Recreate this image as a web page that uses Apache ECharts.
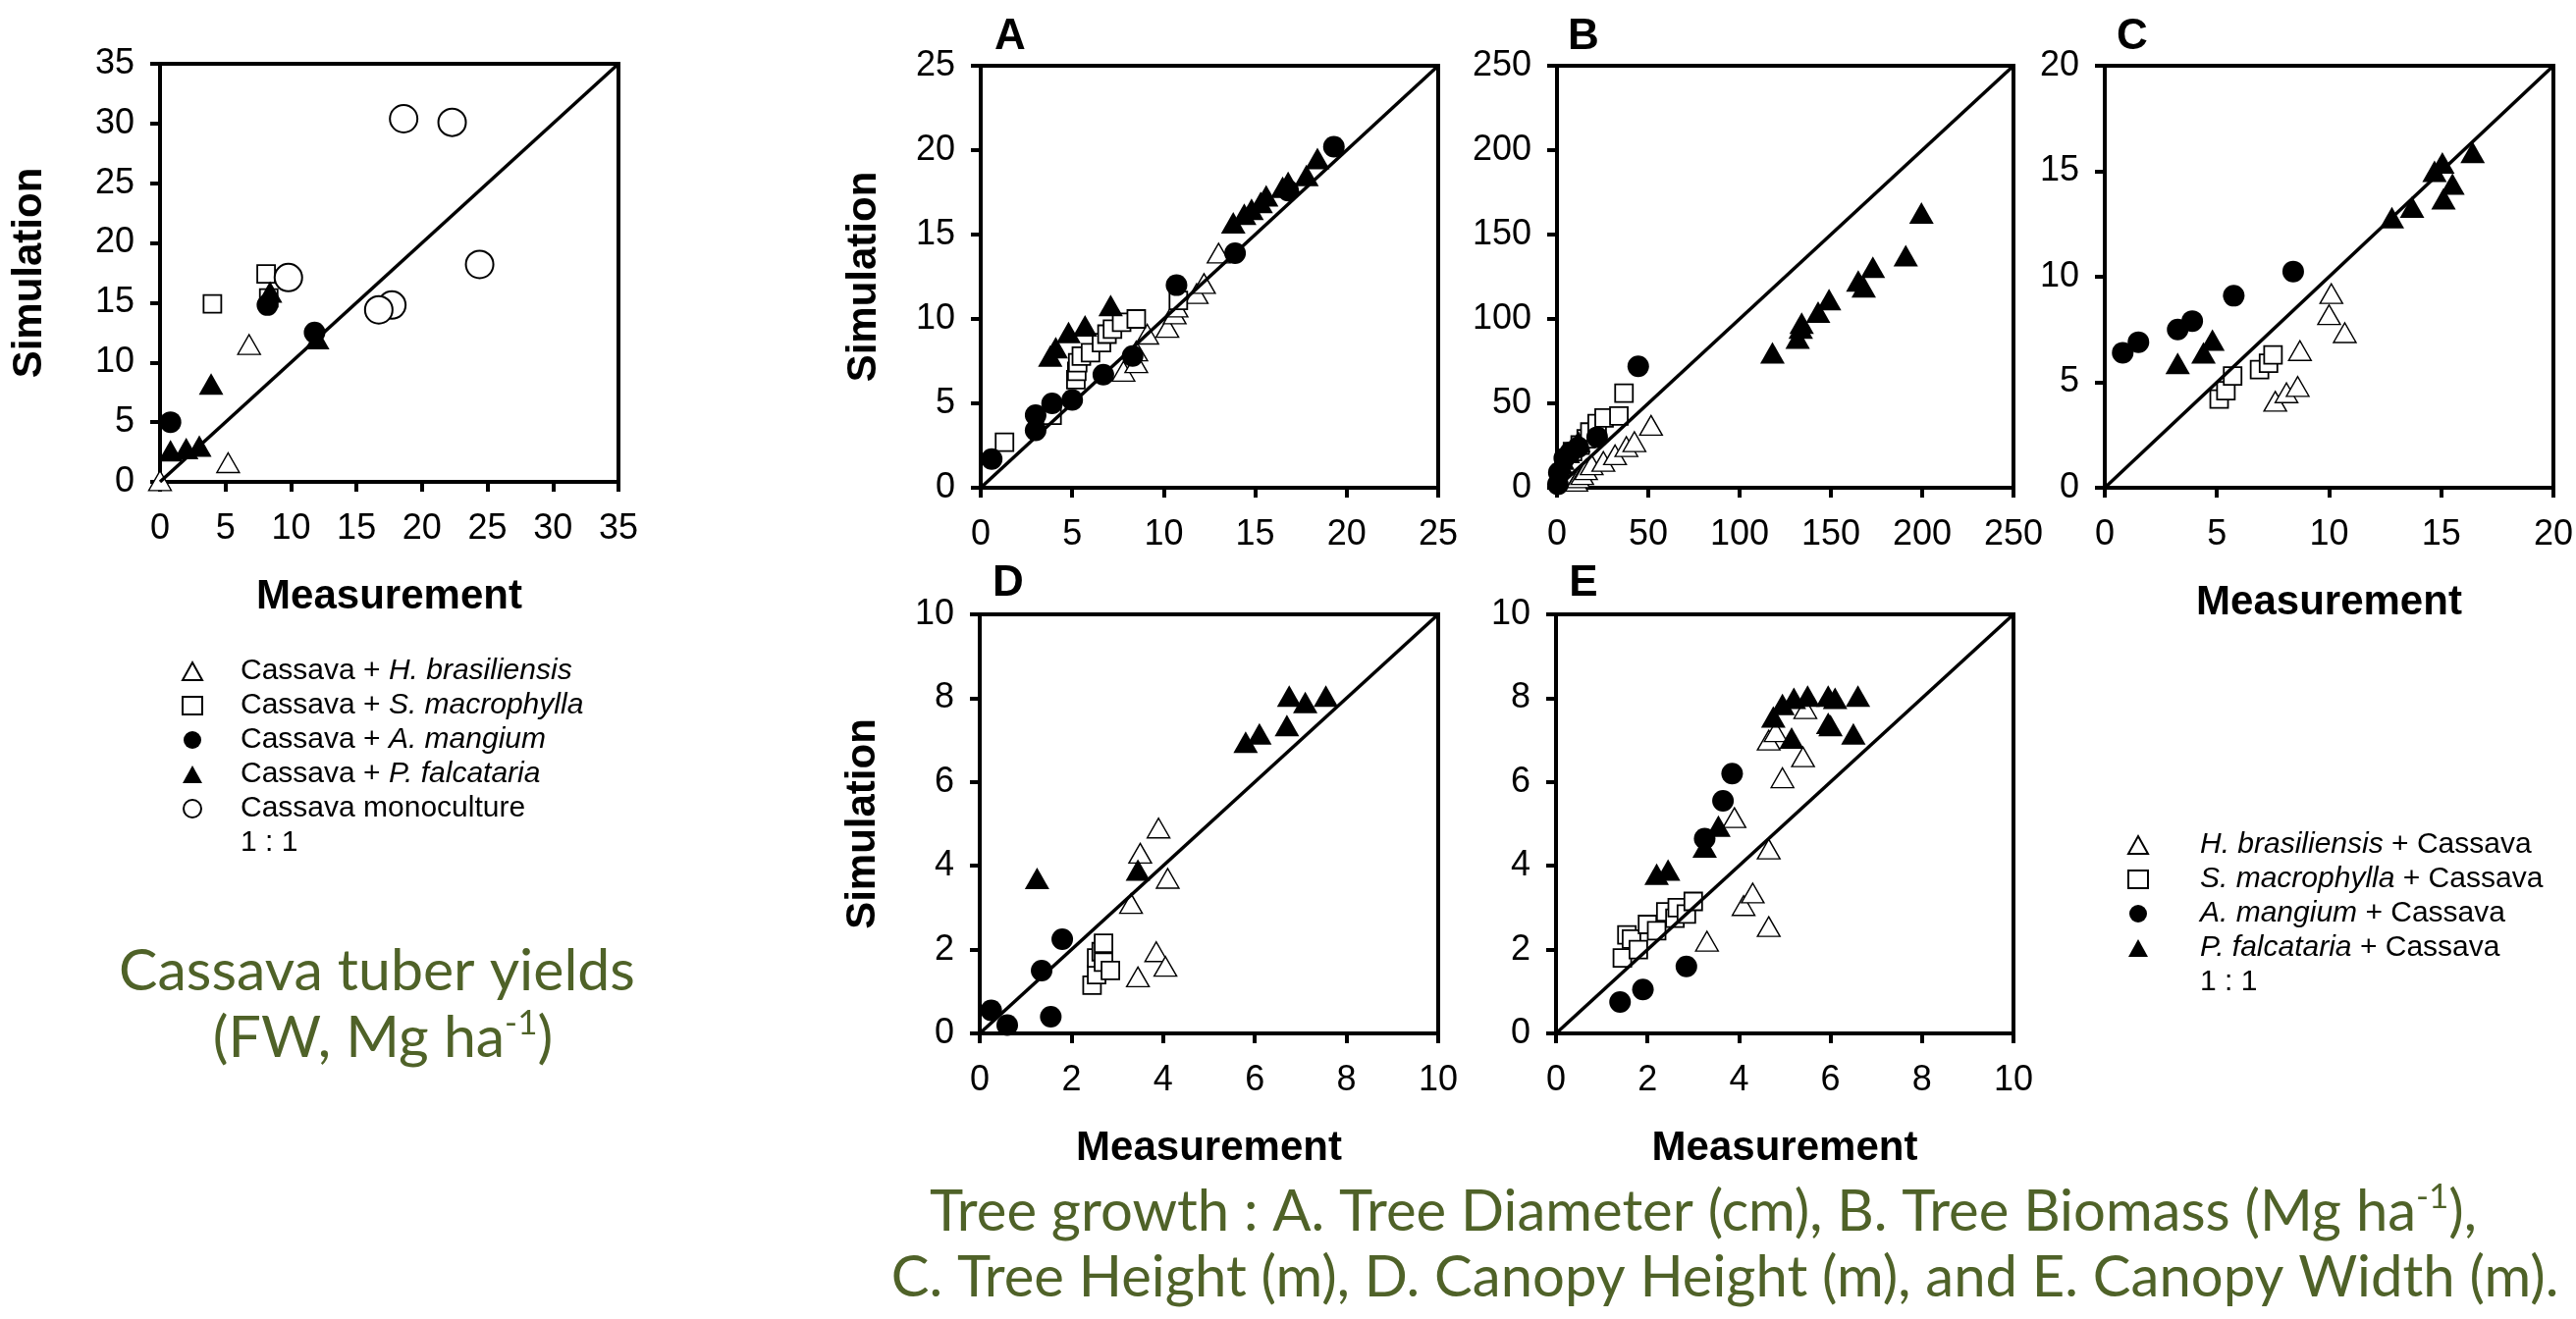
<!DOCTYPE html>
<html>
<head>
<meta charset="utf-8">
<script src="https://cdn.jsdelivr.net/npm/echarts@6/dist/echarts.min.js"></script>
<style>
  html, body { margin: 0; padding: 0; background: #fff; }
  #chart { width: 2624px; height: 1344px; }
</style>
</head>
<body>
<div id="chart"></div>
<script>
const FONT = '"Liberation Sans", Arial, sans-serif'
const GREEN = '#4f6228'

// --- Cassava tuber yields (FW, Mg ha-1): [measurement, simulation] ---
const yieldHB = [[0, 0.1], [5.2, 1.6], [6.8, 11.5]]
const yieldSM = [[4.0, 14.9], [8.1, 17.4], [8.3, 15.4]]
const yieldAM = [[0.8, 5.0], [8.2, 14.8], [11.8, 12.5]]
const yieldPF = [[0.8, 2.6], [2.0, 2.8], [3.0, 3.0], [3.9, 8.2], [8.4, 15.9], [12.0, 12.0]]
const yieldMono = [[18.6, 30.4], [22.3, 30.1], [9.8, 17.1], [17.7, 14.8], [16.7, 14.4], [24.4, 18.2]]

// --- A. Tree diameter (cm) ---
const diamHB = [[7.8, 6.9], [8.5, 7.4], [8.5, 8.1], [9.1, 9.1], [10.2, 9.5], [10.6, 10.3], [10.7, 10.7], [11.8, 11.5], [12.2, 12.1], [13.0, 13.9]]
const diamSM = [[1.3, 2.7], [3.9, 4.3], [5.2, 6.4], [5.25, 6.9], [5.3, 7.4], [5.5, 7.8], [6.0, 8.0], [6.6, 8.6], [6.9, 9.1], [7.2, 9.4], [7.7, 9.8], [8.5, 10.0], [10.8, 11.1]]
const diamAM = [[0.6, 1.7], [3.0, 3.4], [3.0, 4.3], [3.9, 5.0], [5.0, 5.2], [6.7, 6.7], [8.3, 7.8], [10.7, 12.0], [13.9, 13.9], [16.8, 17.6], [19.3, 20.2]]
const diamPF = [[3.8, 7.8], [4.1, 8.3], [4.8, 9.2], [5.7, 9.6], [7.1, 10.8], [13.8, 15.7], [14.4, 16.2], [14.8, 16.5], [15.3, 16.9], [15.6, 17.3], [16.5, 17.8], [16.8, 18.1], [17.8, 18.5], [18.4, 19.5]]

// --- B. Tree biomass (Mg ha-1) ---
const biomHB = [[10.6, 3.9], [11.7, 5.9], [13.8, 7.8], [15.9, 10.7], [19, 13.6], [25.4, 15.6], [31.8, 19.5], [38, 24.4], [42.4, 27.3], [51.5, 37]]
const biomSM = [[8.5, 21.4], [12.7, 25.3], [16, 29], [18, 33], [22, 38], [25.8, 41.3], [33.9, 42.5], [36.7, 56]]
const biomAM = [[0.5, 2], [1, 9], [4, 17.5], [7.4, 21], [11.6, 24], [22, 30], [44.5, 72]]
const biomPF = [[2, 14.6], [3, 17], [6, 21], [11.7, 27.3], [118, 80], [131.8, 88.7], [133.5, 94.6], [134, 97.5], [143, 104], [149, 111.5], [165, 122.5], [168, 119], [173, 130.6], [191, 137.5], [199.6, 162.8]]

// --- C. Tree height (m) ---
const heightHB = [[7.6, 4.1], [8.1, 4.5], [8.6, 4.8], [8.7, 6.5], [10.0, 8.2], [10.1, 9.2], [10.7, 7.35]]
const heightSM = [[5.1, 4.2], [5.4, 4.6], [5.7, 5.3], [6.9, 5.6], [7.3, 5.9], [7.5, 6.3]]
const heightAM = [[0.8, 6.4], [1.5, 6.9], [3.25, 7.5], [3.9, 7.9], [5.75, 9.1], [8.4, 10.25]]
const heightPF = [[3.25, 5.9], [4.4, 6.4], [4.8, 7.0], [12.8, 12.8], [13.7, 13.3], [14.7, 15.0], [15.05, 15.4], [15.1, 13.7], [15.5, 14.4], [16.4, 15.9]]

// --- D. Canopy height (m) ---
const cHeightHB = [[3.9, 4.9], [3.5, 4.3], [4.1, 3.7], [3.3, 3.1], [3.85, 1.95], [4.05, 1.6], [3.45, 1.35]]
const cHeightSM = [[2.45, 1.15], [2.55, 1.4], [2.55, 1.8], [2.65, 1.95], [2.7, 2.15], [2.7, 1.7], [2.85, 1.5]]
const cHeightAM = [[0.25, 0.55], [0.6, 0.2], [1.35, 1.5], [1.55, 0.4], [1.8, 2.25]]
const cHeightPF = [[1.25, 3.7], [3.45, 3.9], [5.8, 6.95], [6.1, 7.15], [6.7, 7.35], [6.75, 8.05], [7.1, 7.9], [7.55, 8.05]]

// --- E. Canopy width (m) ---
const cWidthHB = [[3.3, 2.2], [4.1, 3.05], [4.3, 3.35], [4.65, 2.55], [4.65, 4.4], [3.9, 5.15], [4.95, 6.1], [5.4, 6.6], [4.65, 7.0], [4.8, 7.2], [5.45, 7.75]]
const cWidthSM = [[1.45, 1.8], [1.55, 2.35], [1.65, 2.25], [1.8, 2.0], [2.0, 2.6], [2.2, 2.45], [2.4, 2.9], [2.6, 2.75], [2.65, 3.0], [2.85, 2.85], [3.0, 3.15]]
const cWidthAM = [[1.4, 0.75], [1.9, 1.05], [2.85, 1.6], [3.25, 4.65], [3.65, 5.55], [3.85, 6.2]]
const cWidthPF = [[2.2, 3.8], [2.45, 3.9], [3.25, 4.45], [3.55, 4.95], [5.15, 7.05], [4.75, 7.55], [4.95, 7.85], [5.2, 8.0], [5.5, 8.05], [5.95, 8.05], [6.1, 8.0], [6.6, 8.05], [5.95, 7.4], [6.0, 7.35], [6.5, 7.15]]

const LEFT_NAMES = ['Cassava + H. brasiliensis', 'Cassava + S. macrophylla', 'Cassava + A. mangium', 'Cassava + P. falcataria', 'Cassava monoculture']
const TREE_NAMES = ['H. brasiliensis + Cassava', 'S. macrophylla + Cassava', 'A. mangium + Cassava', 'P. falcataria + Cassava']
const ONE_TO_ONE = '1 : 1'

// marker looks; keys follow the order of each panel's `sets`
const KEYS = ['hb', 'sm', 'am', 'pf', 'mono']
const DRAW_ORDER = ['hb', 'sm', 'pf', 'am', 'mono']
const MARK = {
  hb: { symbol: 'triangle', symbolSize: [23, 20], itemStyle: { color: '#fff', borderColor: '#000', borderWidth: 1.4, opacity: 1 } },
  sm: { symbol: 'rect', symbolSize: 18, itemStyle: { color: '#fff', borderColor: '#000', borderWidth: 1.8, opacity: 1 } },
  am: { symbol: 'circle', symbolSize: 22, itemStyle: { color: '#000', opacity: 1 } },
  pf: { symbol: 'triangle', symbolSize: [25, 22], itemStyle: { color: '#000', opacity: 1 } },
  mono: { symbol: 'circle', symbolSize: 28, itemStyle: { color: '#fff', borderColor: '#000', borderWidth: 2, opacity: 1 } },
}

const panels = [
  { grid: { left: 163, top: 65, width: 467, height: 426 }, max: 35, interval: 5, xName: 'Measurement', yName: 'Simulation', yGap: 112, names: LEFT_NAMES, sets: [yieldHB, yieldSM, yieldAM, yieldPF, yieldMono] },
  { grid: { left: 999, top: 67, width: 466, height: 430 }, max: 25, interval: 5, yName: 'Simulation', yGap: 98, names: TREE_NAMES, sets: [diamHB, diamSM, diamAM, diamPF] },
  { grid: { left: 1586, top: 67, width: 465, height: 430 }, max: 250, interval: 50, names: TREE_NAMES, sets: [biomHB, biomSM, biomAM, biomPF] },
  { grid: { left: 2144, top: 67, width: 466, height: 430 }, max: 20, interval: 5, xName: 'Measurement', names: TREE_NAMES, sets: [heightHB, heightSM, heightAM, heightPF] },
  { grid: { left: 998, top: 626, width: 467, height: 427 }, max: 10, interval: 2, xName: 'Measurement', yName: 'Simulation', yGap: 98, names: TREE_NAMES, sets: [cHeightHB, cHeightSM, cHeightAM, cHeightPF] },
  { grid: { left: 1585, top: 626, width: 466, height: 427 }, max: 10, interval: 2, xName: 'Measurement', names: TREE_NAMES, sets: [cWidthHB, cWidthSM, cWidthAM, cWidthPF] },
]

const LETTERS = [['A', 1029, 38], ['B', 1613, 38], ['C', 2172, 38], ['D', 1027, 595], ['E', 1613, 595]]

const axisName = { color: '#000', fontSize: 42, fontWeight: 'bold', fontFamily: FONT }

function axisBase(p, i) {
  return {
    gridIndex: i,
    type: 'value',
    min: 0,
    max: p.max,
    interval: p.interval,
    axisLine: { show: true, onZero: false, lineStyle: { color: '#000', width: 4 } },
    axisTick: { show: true, inside: false, length: 10, lineStyle: { color: '#000', width: 4 } },
    splitLine: { show: false },
    nameLocation: 'middle',
    nameTextStyle: axisName,
  }
}

const series = []
panels.forEach((p, i) => {
  series.push({
    name: ONE_TO_ONE,
    type: 'line',
    xAxisIndex: i,
    yAxisIndex: i,
    data: [[0, 0], [p.max, p.max]],
    symbol: 'none',
    lineStyle: { color: '#000', width: 3.5 },
    silent: true,
  })
  DRAW_ORDER.forEach((k) => {
    const j = KEYS.indexOf(k)
    if (!p.sets[j]) return
    series.push({ name: p.names[j], type: 'scatter', xAxisIndex: i, yAxisIndex: i, data: p.sets[j], ...MARK[k] })
  })
})

// italic species names in the legends
function legendLabel(name) {
  if (name === ONE_TO_ONE || name === 'Cassava monoculture') return `{n|${name}}`
  if (name.startsWith('Cassava + ')) return `{n|Cassava + }{i|${name.slice(10)}}`
  return `{i|${name.replace(' + Cassava', '')}}{n| + Cassava}`
}

function legendRich(lh) {
  return {
    n: { fontSize: 30, fontFamily: FONT, color: '#000', lineHeight: lh },
    i: { fontSize: 30, fontFamily: FONT, color: '#000', lineHeight: lh, fontStyle: 'italic' },
  }
}

const hiddenLine = { name: ONE_TO_ONE, itemStyle: { opacity: 0 }, lineStyle: { opacity: 0 } }

const titleRich = { sup: { fontSize: 35, fontFamily: 'Lato', fill: GREEN, padding: [0, 0, 30, 0] } }
function greenText(text, x, y, size) {
  return {
    type: 'text',
    x,
    y,
    style: {
      text,
      fontSize: size,
      fontFamily: 'Lato',
      fill: GREEN,
      align: 'center',
      verticalAlign: 'middle',
      textAlign: 'center',
      textVerticalAlign: 'middle',
      rich: titleRich,
    },
  }
}

const chart = echarts.init(document.getElementById('chart'))
chart.setOption({
  animation: false,
  backgroundColor: '#fff',
  textStyle: { fontFamily: FONT },
  grid: panels.map((p) => ({ ...p.grid, show: true, borderColor: '#000', borderWidth: 4, backgroundColor: 'transparent' })),
  xAxis: panels.map((p, i) => ({
    ...axisBase(p, i),
    axisLabel: { color: '#000', fontSize: 36, fontFamily: FONT, margin: 30 },
    name: p.xName || '',
    nameGap: 96,
  })),
  yAxis: panels.map((p, i) => ({
    ...axisBase(p, i),
    axisLabel: { color: '#000', fontSize: 36, fontFamily: FONT, margin: 26 },
    name: p.yName || '',
    nameGap: p.yGap || 0,
  })),
  legend: [
    {
      data: [...LEFT_NAMES, hiddenLine],
      orient: 'vertical',
      left: 180,
      top: 664,
      itemWidth: 20,
      itemHeight: 18,
      itemGap: 5,
      selectedMode: false,
      formatter: legendLabel,
      textStyle: { padding: [0, 0, 0, 34], rich: legendRich(30) },
    },
    {
      data: [...TREE_NAMES, hiddenLine],
      orient: 'vertical',
      left: 2162,
      top: 841,
      itemWidth: 20,
      itemHeight: 18,
      itemGap: 5,
      selectedMode: false,
      formatter: legendLabel,
      textStyle: { padding: [0, 0, 0, 48], rich: legendRich(32) },
    },
  ],
  graphic: [
    ...LETTERS.map(([t, x, y]) => ({
      type: 'text',
      x,
      y,
      style: { text: t, fontSize: 44, fontWeight: 'bold', fontFamily: FONT, fill: '#000', align: 'center', verticalAlign: 'middle', textAlign: 'center', textVerticalAlign: 'middle' },
    })),
    greenText('Cassava tuber yields', 384, 990, 59),
    greenText('(FW, Mg ha{sup|-1})', 390, 1058, 59),
    greenText('Tree growth : A. Tree Diameter (cm), B. Tree Biomass (Mg ha{sup|-1}),', 1735, 1235, 58),
    greenText('C. Tree Height (m), D. Canopy Height (m), and E. Canopy Width (m).', 1757, 1302, 58),
  ],
  series,
})
</script>
</body>
</html>
